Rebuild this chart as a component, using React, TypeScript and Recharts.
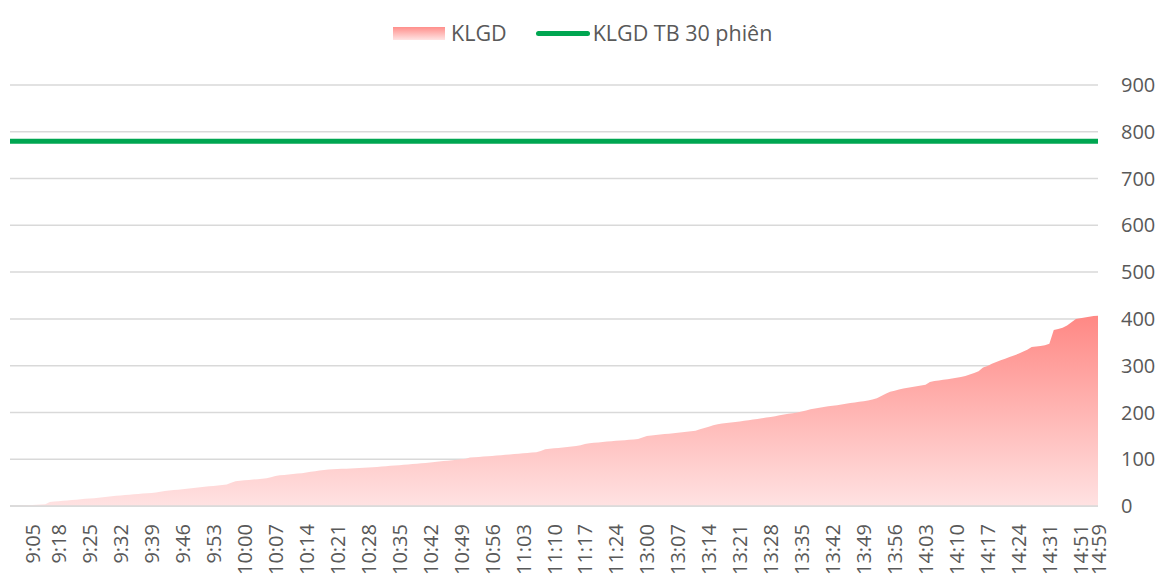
import { ComposedChart, Area, XAxis, YAxis, CartesianGrid, ReferenceLine } from 'recharts';

// trading minutes shown on the axis (start, end) per block
const sessions: [string, string][] = [
    ['9:00', '9:05'],
    ['9:13', '11:30'],
    ['13:00', '14:31'],
    ['14:45', '14:51'],
    ['14:56', '14:59'],
];

// cumulative volume (KLGD), one value per minute
const volume = [
    0, 0.4, 0.8, 1.2, 1.5, 2, 2.6, 3.2, 4, 8.5,
    9.5, 10.3, 11, 12, 12.8, 13.6, 14.5, 15.3, 16, 16.8,
    17.8, 18.8, 20, 21, 21.8, 22.6, 23.4, 24.2, 25, 25.8,
    26.5, 27.3, 28, 29, 30.5, 32, 33.2, 34, 35, 35.8,
    36.8, 37.8, 39, 40, 41, 42, 43, 44, 45, 46,
    49.5, 53, 54, 54.8, 55.6, 56.4, 57.3, 58, 59.5, 61.5,
    64, 65.5, 66.5, 67.5, 68.5, 69.3, 70, 71.5, 73, 74.5,
    76, 77, 78, 78.5, 79, 79.4, 79.8, 80.3, 80.8,
    81.3, 81.8, 82.4, 83, 83.5, 84.2, 85, 85.8, 86.5, 87.3,
    88, 88.8, 89.6, 90.5, 91.2, 92, 93, 94, 95, 96,
    97, 98, 99, 100, 101, 103.5, 104.3, 105, 105.7, 106.3,
    107, 107.8, 108.6, 109.4, 110.2, 111, 111.8, 112.6, 113.4, 114.2,
    115, 117.5, 121.5, 122.5, 123.3, 124, 125, 126, 127, 128.5,
    130, 132.5, 134, 135, 136, 136.8, 137.7, 138.6, 139.3, 140,
    140.8, 141.5, 142.2, 143, 146.5, 149.5, 150.8, 152, 153, 153.8,
    154.6, 155.6, 156.8, 157.8, 158.8, 160, 161, 164, 167, 169.5,
    172.5, 175, 176.3, 177.5, 178.6, 179.6, 180.8, 182, 183.4, 184.8,
    186.2, 187.5, 189, 190.5, 192, 194, 195.5, 197, 198.5, 200,
    202, 204, 207, 208.5, 210, 211.5, 213, 214.3, 215.5, 217,
    218.5, 220, 221.5, 222.8, 224, 225.5, 227.5, 230.5, 235, 240,
    244, 246.5, 249, 251, 253, 254.5, 256, 257.5, 259, 265,
    267, 268.5, 270, 271.2, 272.6, 274, 276, 278, 281, 284.5,
    288, 296, 299.5, 304, 308, 311.5, 315, 318.5, 322, 325.5,
    329.5, 334, 340, 341, 342, 343.5, 347, 376, 378.5, 381,
    386, 393, 399.5, 401.5, 403, 404.5, 406, 406.5,
];

const avgVolume30 = 780;

const tickLabels = [
    '9:05', '9:18', '9:25', '9:32', '9:39', '9:46', '9:53', '10:00', '10:07', '10:14',
    '10:21', '10:28', '10:35', '10:42', '10:49', '10:56', '11:03', '11:10', '11:17', '11:24',
    '13:00', '13:07', '13:14', '13:21', '13:28', '13:35', '13:42', '13:49', '13:56', '14:03',
    '14:10', '14:17', '14:24', '14:31', '14:51', '14:59',
];

const yTicks = [0, 100, 200, 300, 400, 500, 600, 700, 800, 900];

const toMin = (s: string) => {
    const [h, m] = s.split(':').map(Number);
    return h * 60 + m;
};
const fmt = (v: number) => `${Math.floor(v / 60)}:${String(v % 60).padStart(2, '0')}`;

const times: string[] = [];
sessions.forEach(([a, b]) => {
    for (let v = toMin(a); v <= toMin(b); v++) times.push(fmt(v));
});

const data = volume.map((v, i) => ({ t: times[i], klgd: v }));

const FONT = '"Open Sans", sans-serif';
const TEXT = '#595959';

// vertical time label, centred on its tick
const TimeTick = ({ x, y, payload }: any) => (
    <text
        x={x}
        y={y}
        transform={`rotate(-90, ${x}, ${y})`}
        textAnchor="end"
        dominantBaseline="central"
        fill={TEXT}
        fontSize={20}
        fontFamily={FONT}
    >
        {payload.value}
    </text>
);

export default function App() {
    return (
        <div style={{ position: 'absolute', left: 0, top: 0, width: 1162, height: 574, background: '#fff', fontFamily: FONT }}>
            {/* legend */}
            <div style={{ position: 'absolute', top: 22, left: 393, display: 'flex', alignItems: 'center', fontSize: 21.5, color: TEXT, lineHeight: '22px' }}>
                <span style={{ width: 52, height: 13, background: 'linear-gradient(#ff8f8b, #ffe4e4)', display: 'inline-block' }} />
                <span style={{ marginLeft: 6 }}>KLGD</span>
                <span style={{ width: 54, height: 5, borderRadius: 3, background: '#00a651', display: 'inline-block', marginLeft: 29 }} />
                <span style={{ marginLeft: 3 }}>KLGD TB 30 phiên</span>
            </div>
            <ComposedChart width={1162} height={574} data={data} margin={{ top: 85, right: 0, bottom: 0, left: 10 }}>
                <defs>
                    <linearGradient id="klgdFill" x1="0" y1="0" x2="0" y2="1">
                        <stop offset="0%" stopColor="#ff8884" />
                        <stop offset="100%" stopColor="#ffe2e2" />
                    </linearGradient>
                </defs>
                <CartesianGrid vertical={false} stroke="#d9d9d9" strokeWidth={1.5} />
                <XAxis
                    dataKey="t"
                    ticks={tickLabels}
                    interval={0}
                    height={68}
                    tickLine={false}
                    tickMargin={12}
                    axisLine={{ stroke: '#d9d9d9', strokeWidth: 1.5 }}
                    tick={<TimeTick />}
                />
                <YAxis
                    orientation="right"
                    domain={[0, 900]}
                    ticks={yTicks}
                    width={64}
                    axisLine={false}
                    tickLine={false}
                    tickMargin={17}
                    tick={{ fill: TEXT, fontSize: 20, fontFamily: FONT }}
                />
                <Area type="linear" dataKey="klgd" name="KLGD" stroke="none" fill="url(#klgdFill)" fillOpacity={1} isAnimationActive={false} />
                <ReferenceLine y={avgVolume30} stroke="#00a651" strokeWidth={5} />
            </ComposedChart>
        </div>
    );
}
